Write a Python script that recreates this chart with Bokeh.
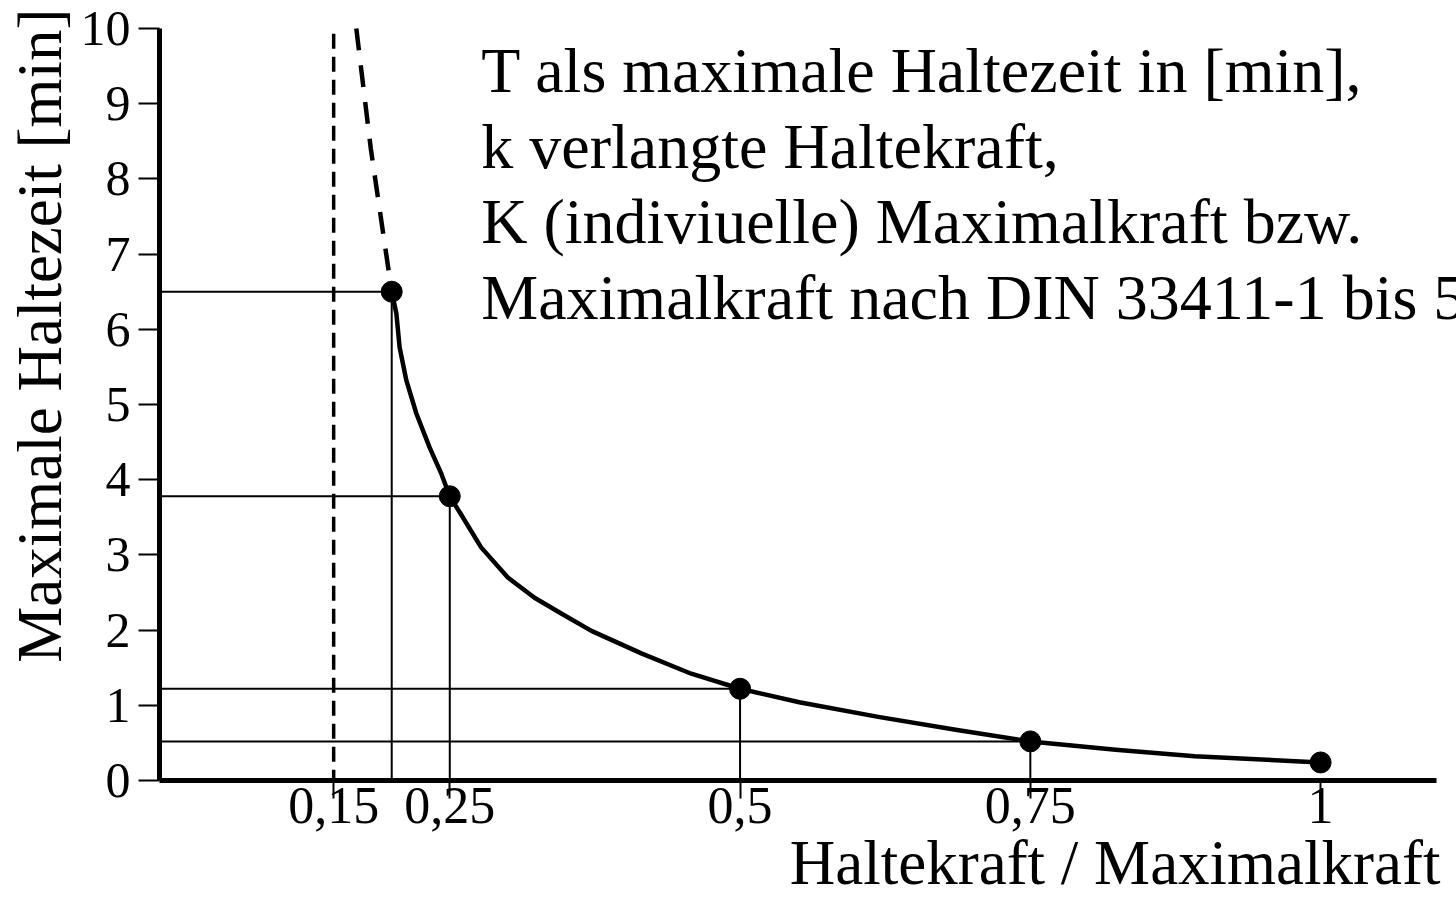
import math
from bokeh.plotting import figure
from bokeh.models import Label, FixedTicker, Range1d, Title
from bokeh.embed import file_html
from bokeh.resources import INLINE

# ---- data ----
point_x = [0.2, 0.25, 0.5, 0.75, 1.0]
point_y = [6.5, 3.78, 1.22, 0.52, 0.24]

curve_x = [0.2, 0.204, 0.2068, 0.2126, 0.2212, 0.2326, 0.2427, 0.25, 0.260,
           0.277, 0.300, 0.323, 0.346, 0.372, 0.415, 0.458, 0.5, 0.551,
           0.619, 0.687, 0.75, 0.8235, 0.8916, 1.0]
curve_y = [6.5, 6.21, 5.76, 5.32, 4.88, 4.43, 4.08, 3.78, 3.53,
           3.10, 2.70, 2.43, 2.22, 1.99, 1.69, 1.42, 1.22, 1.04,
           0.846, 0.672, 0.52, 0.41, 0.324, 0.24]

dashed_x = [0.1695, 0.182, 0.2]
dashed_y = [10.0, 8.4, 6.5]

limit_x = 0.15

x_ticks = [0.15, 0.25, 0.5, 0.75, 1.0]
x_tick_labels = ["0,15", "0,25", "0,5", "0,75", "1"]
y_ticks = [0, 1, 2, 3, 4, 5, 6, 7, 8, 9, 10]

x_title = "Haltekraft / Maximalkraft"
y_title = "Maximale Haltezeit [min]"
note_lines = [
    "T als maximale Haltezeit in [min],",
    "k verlangte Haltekraft,",
    "K (indiviuelle) Maximalkraft bzw.",
    "Maximalkraft nach DIN 33411-1 bis 5",
]

FONT = "Liberation Serif"

# ---- layout (canvas pixels) ----
W, H = 1456, 898
OX, OY = 158, 780     # pixel position of the data origin
XS = 1162.0           # px per x unit
YS = 75.2             # px per y unit
x_start, x_end = 0.0, (W - OX) / XS
y_start, y_end = 0.0, OY / YS

p = figure(width=W, height=H,
           x_range=Range1d(x_start, x_end), y_range=Range1d(y_start, y_end),
           output_backend="svg", toolbar_location=None,
           min_border_left=OX, min_border_right=0, min_border_top=0,
           min_border_bottom=H - OY)
p.grid.visible = False
p.outline_line_color = None
p.background_fill_color = "white"
p.border_fill_color = "white"

xa = p.xaxis[0]
xa.bounds = (-25 / XS, 1.1)
xa.ticker = FixedTicker(ticks=x_ticks)
xa.major_label_overrides = {t: l for t, l in zip(x_ticks, x_tick_labels)}
xa.axis_line_width = 5
xa.axis_line_color = "black"
xa.major_tick_line_width = 2
xa.major_tick_line_color = "black"
xa.major_tick_in = 0
xa.major_tick_out = 18
xa.minor_tick_line_color = None
xa.major_label_standoff = -11
xa.major_label_text_font = FONT
xa.major_label_text_font_size = "52px"
xa.major_label_text_color = "black"

ya = p.yaxis[0]
ya.bounds = (-7 / YS, 10)
ya.ticker = FixedTicker(ticks=y_ticks)
ya.axis_line_width = 5
ya.axis_line_color = "black"
ya.major_tick_line_width = 2
ya.major_tick_line_color = "black"
ya.major_tick_in = 0
ya.major_tick_out = 21
ya.minor_tick_line_color = None
ya.major_label_standoff = 8
ya.major_label_text_font = FONT
ya.major_label_text_font_size = "50px"
ya.major_label_text_color = "black"

# axis titles
p.add_layout(Title(text=y_title, align="right", offset=8, standoff=5,
                   text_font=FONT, text_font_size="63px", text_font_style="normal",
                   text_color="black"), "left")
p.add_layout(Title(text=x_title, align="right", offset=16, standoff=0,
                   text_font=FONT, text_font_size="63px", text_font_style="normal",
                   text_color="black"), "below")

# guide lines
n = 4
p.segment(x0=[0] * n, y0=point_y[:n], x1=point_x[:n], y1=point_y[:n],
          line_color="black", line_width=2)
p.segment(x0=point_x[:n], y0=point_y[:n], x1=point_x[:n], y1=[0] * n,
          line_color="black", line_width=2)

# dashed limit line at 0.15
p.segment(x0=[limit_x], y0=[9.93], x1=[limit_x], y1=[0],
          line_color="black", line_width=3.5, line_dash="15 8")

# curve
p.line(dashed_x, dashed_y, line_color="black", line_width=4.5, line_dash="22 15")
p.line(curve_x, curve_y, line_color="black", line_width=4.5, line_join="round")
p.scatter(point_x, point_y, size=21, color="black")

# note lines
for i, line in enumerate(note_lines):
    base_px = 70 + i * 75.7
    p.add_layout(Label(x=(480 - OX) / XS, y=(OY - base_px) / YS, text=line,
                       text_font=FONT, text_font_size="64px", text_align="left",
                       text_baseline="alphabetic", text_color="black"))

open("out.html", "w").write(file_html(p, INLINE))
